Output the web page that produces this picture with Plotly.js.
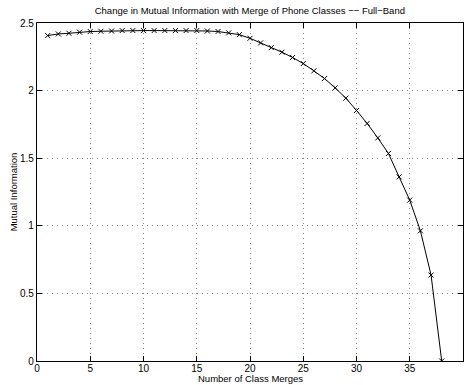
<!DOCTYPE html>
<html><head><meta charset="utf-8">
<script src="https://cdn.plot.ly/plotly-3.0.1.min.js"></script>
<style>body{margin:0;padding:0;background:#fff}#chart{width:467px;height:385px}</style>
</head><body><div id="chart"></div>
<script>
const merges = [1,2,3,4,5,6,7,8,9,10,11,12,13,14,15,16,17,18,19,20,21,22,23,24,25,26,27,28,29,30,31,32,33,34,35,36,37,38];
const mutualInfo = [2.407,2.419,2.424,2.432,2.437,2.439,2.441,2.444,2.444,2.444,2.444,2.444,2.444,2.444,2.444,2.441,2.437,2.427,2.414,2.387,2.353,2.318,2.284,2.245,2.200,2.146,2.089,2.020,1.944,1.853,1.757,1.650,1.535,1.362,1.190,0.963,0.636,0.0];
const xTicks = [0,5,10,15,20,25,30,35,40];
const yTicks = [0,0.5,1,1.5,2,2.5];
const yTickText = ['0','0.5','1','1.5','2','2.5'];
const xLabel = 'Number of Class Merges';

const fam = 'Liberation Sans, Arial, sans-serif';
const font = {family:fam, size:10, color:'#000'};
const axisCommon = {
  showline:true, mirror:'ticks', linecolor:'#000', linewidth:1.2,
  ticks:'inside', ticklen:5, tickcolor:'#000', tickwidth:1,
  showgrid:true, gridcolor:'#8a8a8a', griddash:'1px,4px', gridwidth:1,
  zeroline:false, tickfont:font
};
Plotly.newPlot('chart', [{
  x: merges, y: mutualInfo, type:'scatter', mode:'lines+markers',
  line:{color:'#000', width:1},
  marker:{symbol:'x-thin-open', size:5, color:'#000', line:{color:'#000', width:1}}
}], {
  width:467, height:385,
  margin:{l:37, r:4, t:23, b:24},
  paper_bgcolor:'#fff', plot_bgcolor:'#fff',
  showlegend:false,
  font:font,
  title:{text:'Change in Mutual Information with Merge of Phone Classes −− Full−Band', font:{family:fam, size:9.5, color:'#000'}, x:0.535, xanchor:'center', y:0.982, yanchor:'top'},
  xaxis: Object.assign({}, axisCommon, {range:[0,40], tickvals:xTicks, ticktext:xTicks.map(String), ticklabelstandoff:-2}),
  yaxis: Object.assign({}, axisCommon, {range:[0,2.5], tickvals:yTicks, ticktext:yTickText,
    title:{text:'Mutual Information', font:{family:fam, size:9.5, color:'#000'}, standoff:0}}),
  annotations:[{text:xLabel, xref:'paper', yref:'paper', x:0.5, y:0, xanchor:'center', yanchor:'bottom',
    yshift:-24, borderpad:0, showarrow:false, font:{family:fam, size:9.5, color:'#000'}}]
}, {displayModeBar:false, staticPlot:true});
</script></body></html>
